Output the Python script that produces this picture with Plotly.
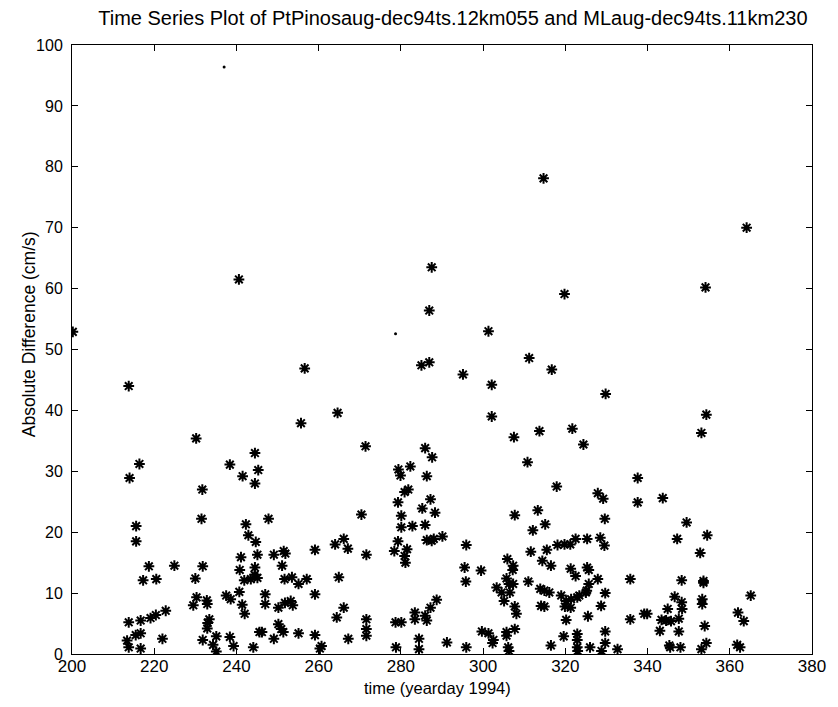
import plotly.graph_objects as go

# yearday (x) and absolute difference in cm/s (y)
yearday = [
    214.0, 216.4, 215.6, 215.6, 218.7, 217.3, 220.5, 224.9, 213.8, 216.7, 215.5, 216.7, 213.4, 213.8, 216.7,
    219.1, 220.4, 222.8, 222.0, 230.2, 238.4, 231.7, 231.5, 231.8, 230.0, 230.3, 229.5, 232.9, 232.8, 233.4,
    233.0, 232.9, 235.1, 231.8, 234.3, 235.1, 237.5, 238.6, 240.7, 241.4, 242.0, 238.4, 239.3, 244.1, 245.6,
    244.5, 245.3, 241.5, 244.5, 242.3, 242.9, 244.7, 241.1, 245.1, 240.8, 244.5, 241.9, 243.5, 245.1, 244.4,
    200.2, 213.8, 240.6, 256.6, 286.9, 287.5, 285.0, 286.9,
    314.7, 364.1, 354.1, 319.8, 301.3, 311.2, 316.7, 295.1, 302.1, 329.8,
    264.6, 255.7, 271.4, 285.9, 287.6, 279.4, 282.3, 279.9, 286.3, 281.8, 280.9, 279.3, 287.2, 285.2, 288.3,
    280.1, 280.1, 282.8, 285.9, 270.4, 247.8, 249.1, 251.5, 251.9, 259.1, 264.0, 266.1, 267.1, 271.6, 279.3,
    278.4, 281.5, 280.9, 281.1, 286.3, 288.0, 290.1, 287.5, 251.1, 251.7, 253.5, 255.1, 257.1, 264.9, 259.1,
    247.0, 247.0, 250.2, 251.8, 253.2, 253.7, 266.1, 264.4, 271.6, 271.6, 271.6, 278.7, 280.1, 283.4, 283.4,
    285.9, 286.3, 287.2, 288.7, 250.2, 250.9, 251.4, 249.1, 246.2, 255.1, 259.1, 267.2, 260.7, 260.3, 278.8,
    284.4, 284.4, 291.2,
    302.1, 307.5, 313.7, 321.7, 324.4, 310.8, 337.6, 337.6, 317.9, 327.9, 329.2, 307.7, 313.3, 315.1, 312.1,
    329.6, 295.9, 318.1, 319.8, 321.2, 322.5, 325.3, 328.5, 329.5, 311.6, 315.5, 305.9, 314.4, 316.5, 295.5,
    299.5, 307.3, 307.2, 295.8, 305.7, 307.3, 321.3, 322.5, 325.3, 325.7, 327.9, 325.7, 325.2, 311.0, 303.3,
    304.5, 306.5, 306.3, 305.1, 307.7, 308.1, 313.9, 314.9, 316.1, 314.1, 314.9, 319.0, 320.2, 319.9, 321.3,
    321.4, 322.9, 323.4, 325.0, 328.7, 329.7, 325.5, 320.2, 299.7, 301.3, 302.5, 302.3, 305.7, 305.7, 307.7,
    306.1, 306.3, 295.9, 316.5, 319.6, 322.9, 322.9, 322.9, 323.0, 326.0, 328.8, 329.7, 329.7, 332.7, 335.8,
    335.8,
    354.3, 353.1, 343.7, 349.5, 347.2, 354.5, 352.8, 348.3, 353.6, 353.6, 365.1, 346.6, 353.3, 353.3, 348.3,
    348.4, 344.9, 339.2, 339.9, 343.4, 344.5, 345.7, 347.6, 343.0, 347.6, 353.9, 362.0, 363.4, 345.3, 345.5,
    348.0, 353.1, 354.3, 361.8, 362.5,
]
abs_diff = [
    28.9, 31.2, 21.0, 18.5, 14.4, 12.1, 12.3, 14.5, 5.2, 5.5, 3.1, 3.4, 2.2, 1.1, 0.9,
    5.9, 6.4, 7.1, 2.5, 35.4, 31.1, 27.0, 22.2, 14.4, 12.4, 9.3, 8.0, 8.2, 8.8, 5.7,
    5.1, 4.2, 2.9, 2.3, 1.5, 0.4, 9.6, 9.0, 10.2, 8.1, 6.6, 2.8, 1.3, 1.1, 3.6,
    33.0, 30.2, 29.2, 28.0, 21.3, 19.5, 18.4, 15.9, 16.3, 13.8, 14.2, 12.1, 12.3, 12.5, 13.0,
    52.9, 44.0, 61.5, 46.9, 56.4, 63.5, 47.4, 47.9,
    78.1, 70.0, 60.2, 59.1, 53.0, 48.6, 46.7, 45.9, 44.2, 42.7,
    39.6, 37.9, 34.1, 33.8, 32.3, 30.3, 30.8, 29.3, 29.2, 27.0, 26.6, 24.9, 25.4, 23.9, 23.2,
    22.7, 20.8, 21.0, 21.2, 22.9, 22.2, 16.3, 16.9, 16.5, 17.1, 18.0, 18.9, 17.3, 16.3, 18.5,
    16.9, 17.2, 16.1, 15.0, 18.7, 18.9, 19.3, 18.6, 14.5, 12.3, 12.6, 11.5, 12.3, 12.6, 9.8,
    9.8, 8.2, 7.6, 8.4, 8.7, 8.0, 7.6, 6.0, 5.7, 4.1, 3.0, 5.2, 5.2, 6.8, 5.7,
    6.3, 5.5, 7.6, 8.9, 4.9, 4.1, 3.6, 2.5, 3.6, 3.4, 3.1, 2.5, 1.3, 0.9, 1.1,
    2.5, 0.8, 1.9,
    39.0, 35.6, 36.6, 37.0, 34.4, 31.5, 28.9, 24.9, 27.5, 26.4, 25.5, 22.8, 23.6, 21.3, 20.3,
    22.2, 17.9, 17.9, 18.0, 18.0, 18.9, 18.9, 19.1, 17.8, 16.8, 17.1, 15.6, 15.3, 14.5, 14.2,
    13.7, 14.5, 13.8, 11.9, 12.4, 11.5, 14.0, 12.8, 14.2, 13.8, 12.3, 11.5, 10.4, 11.9, 10.9,
    10.1, 10.1, 11.5, 8.7, 7.8, 6.6, 10.7, 10.4, 10.1, 7.9, 7.8, 9.6, 8.7, 7.8, 7.6,
    9.0, 9.3, 9.6, 10.1, 7.9, 10.0, 6.2, 5.6, 3.7, 3.4, 2.3, 1.8, 3.6, 3.0, 4.1,
    1.1, 0.5, 1.1, 1.4, 2.9, 3.3, 2.3, 1.1, 0.5, 1.1, 0.5, 3.7, 1.8, 0.8, 12.3,
    5.7,
    39.3, 36.3, 25.6, 21.6, 18.9, 19.5, 16.6, 12.1, 12.0, 11.7, 9.6, 9.4, 9.0, 8.2, 8.5,
    7.4, 7.4, 6.6, 6.6, 5.6, 5.5, 5.4, 5.8, 3.8, 3.7, 4.6, 6.8, 5.4, 1.4, 1.1,
    1.1, 0.8, 1.8, 1.5, 1.1,
]
# isolated small dots
dot_day = [237.0, 278.7]
dot_val = [96.4, 52.6]

x_ticks = [200, 220, 240, 260, 280, 300, 320, 340, 360, 380]
y_ticks = [0, 10, 20, 30, 40, 50, 60, 70, 80, 90, 100]

TITLE = "Time Series Plot of PtPinosaug-dec94ts.12km055 and MLaug-dec94ts.11km230"
XLABEL = "time (yearday 1994)"
YLABEL = "Absolute Difference (cm/s)"

FONT = "Liberation Sans, Arial, sans-serif"

fig = go.Figure()
fig.add_trace(go.Scatter(
    x=yearday, y=abs_diff, mode="markers",
    marker=dict(symbol="asterisk-open", size=9, color="black",
                line=dict(color="black", width=2)),
    showlegend=False, hoverinfo="x+y",
))
fig.add_trace(go.Scatter(
    x=dot_day, y=dot_val, mode="markers",
    marker=dict(symbol="circle", size=3, color="black"),
    showlegend=False,
))

# the page body has an 8 px margin, so the figure is sized to fit inside the window
fig.update_layout(
    width=830, height=691,
    margin=dict(l=64, r=21, t=37, b=45),
    paper_bgcolor="white", plot_bgcolor="white",
    font=dict(family=FONT, color="black"),
    title=dict(text=TITLE, xref="container", x=0.536, xanchor="center",
               yref="container", y=0.986, yanchor="middle",
               font=dict(size=20, family=FONT, color="black")),
    annotations=[
        dict(text=XLABEL, xref="paper", yref="paper", x=0.494, y=-0.0558,
             xanchor="center", yanchor="middle", showarrow=False,
             font=dict(size=16.5, family=FONT, color="black")),
        dict(text=YLABEL, xref="paper", yref="paper", x=-0.0577, y=0.5255,
             xanchor="center", yanchor="middle", textangle=-90, showarrow=False,
             font=dict(size=17.5, family=FONT, color="black")),
    ],
)
fig.update_xaxes(
    range=[200, 380], tickvals=x_ticks, ticktext=[str(t) for t in x_ticks],
    showgrid=False, zeroline=False, showline=True, linecolor="black", linewidth=1,
    mirror="ticks", ticks="inside", ticklen=6, tickcolor="black",
    tickfont=dict(size=17, family=FONT), ticklabelstandoff=-3,
)
fig.update_yaxes(
    range=[0, 100], tickvals=y_ticks, ticktext=[str(t) for t in y_ticks],
    showgrid=False, zeroline=False, showline=True, linecolor="black", linewidth=1,
    mirror="ticks", ticks="inside", ticklen=6, tickcolor="black",
    tickfont=dict(size=16, family=FONT), ticklabelstandoff=5,
)

fig.write_html("out.html")
